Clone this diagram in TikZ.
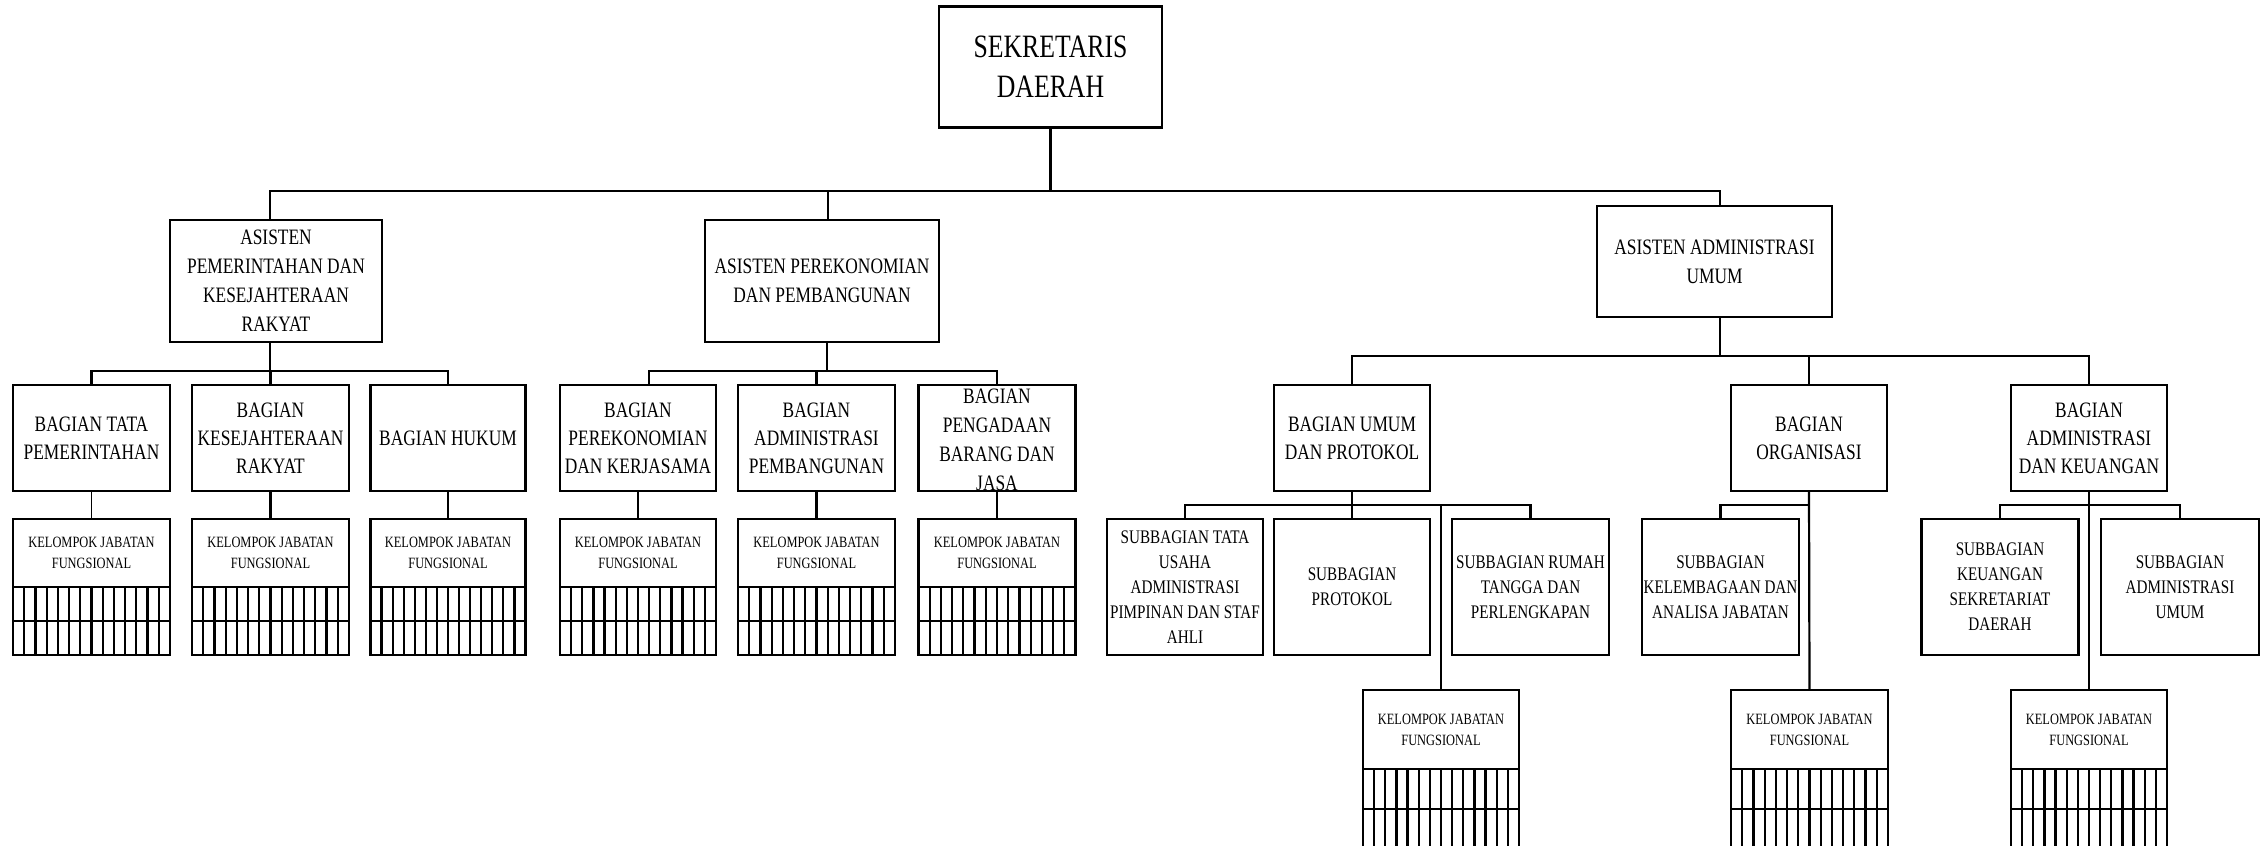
\documentclass[tikz,border=0pt]{standalone}
\usepackage{fontspec}
\setmainfont{Liberation Serif}[FakeStretch=0.79]
\usetikzlibrary{calc}
\tikzset{
 ln/.style={line width=2.2pt},
 thinln/.style={line width=1.3pt},
 box/.style={draw, line width=2.2pt, align=center, inner sep=0pt, outer sep=0pt},
 topbox/.style={box, font=\fontsize{32.6}{40}\selectfont},
 asbox/.style={box, font=\fontsize{22}{29}\selectfont},
 bgbox/.style={box, font=\fontsize{22}{28}\selectfont, minimum height=106},
 bgtext/.style={align=center, inner sep=0pt, font=\fontsize{22}{29}\selectfont},
 sbbox/.style={box, font=\fontsize{19.2}{25}\selectfont, minimum height=136},
 kjbox/.style={box, font=\fontsize{15.7}{21}\selectfont},
}
\newcommand{\kjgrid}[3]{%
  \foreach \gi in {1,...,13}{\draw[ln] ($(#1.south west)!\gi/14!(#1.south east)$) -- ++(0,#2*#3);}
  \foreach \gr in {1,...,#3}{\draw[ln,line cap=rect] ($(#1.south west)+(0,\gr*#2)$) -- ($(#1.south east)+(0,\gr*#2)$);}
  \draw[ln,line cap=rect] (#1.south west) -- ++(0,#2*#3) (#1.south east) -- ++(0,#2*#3);
}
\begin{document}
\begin{tikzpicture}[x=1pt,y=-1pt]
\useasboundingbox (0,0) rectangle (2268,846);
\clip (0,0) rectangle (2268,846);
\fill[white] (0,0) rectangle (2268,846);
% level 0
\node[topbox, minimum width=223, minimum height=121] (sek) at (1050.5,67) {SEKRETARIS\\DAERAH};
% level 1
\node[asbox, minimum width=212, minimum height=122] (asPem) at (276,281) {ASISTEN\\PEMERINTAHAN DAN\\KESEJAHTERAAN\\RAKYAT};
\node[asbox, minimum width=234, minimum height=122] (asEko) at (822,281) {ASISTEN PEREKONOMIAN\\DAN PEMBANGUNAN};
\node[asbox, minimum width=235, minimum height=111] (asAdm) at (1714.5,261.5) {ASISTEN ADMINISTRASI\\UMUM};
% level 2
\node[bgbox, minimum width=157] (b1) at (91.5,438) {BAGIAN TATA\\PEMERINTAHAN};
\node[bgbox, minimum width=157] (b2) at (270.5,438) {BAGIAN\\KESEJAHTERAAN\\RAKYAT};
\node[bgbox, minimum width=155] (b3) at (448,438) {BAGIAN HUKUM};
\node[bgbox, minimum width=156] (m1) at (638,438) {BAGIAN\\PEREKONOMIAN\\DAN KERJASAMA};
\node[bgbox, minimum width=157] (m2) at (816.5,438) {BAGIAN\\ADMINISTRASI\\PEMBANGUNAN};
\node[bgbox, minimum width=157] (m3) at (997,438) {};
\node[bgtext] (m3t) at ($(m3.center)+(0,2)$) {BAGIAN\\PENGADAAN\\BARANG DAN\\JASA};
\node[bgbox, minimum width=156] (r1) at (1352,438) {BAGIAN UMUM\\DAN PROTOKOL};
\node[bgbox, minimum width=156] (r2) at (1809,438) {BAGIAN\\ORGANISASI};
\node[bgbox, minimum width=156] (r3) at (2089,438) {BAGIAN\\ADMINISTRASI\\DAN KEUANGAN};
% kelompok jabatan fungsional (upper)
\node[kjbox, minimum width=157, minimum height=68] (k1) at (91.5,553) {KELOMPOK JABATAN\\FUNGSIONAL};
\node[kjbox, minimum width=157, minimum height=68] (k2) at (270.5,553) {KELOMPOK JABATAN\\FUNGSIONAL};
\node[kjbox, minimum width=155, minimum height=68] (k3) at (448,553) {KELOMPOK JABATAN\\FUNGSIONAL};
\node[kjbox, minimum width=156, minimum height=68] (k4) at (638,553) {KELOMPOK JABATAN\\FUNGSIONAL};
\node[kjbox, minimum width=157, minimum height=68] (k5) at (816.5,553) {KELOMPOK JABATAN\\FUNGSIONAL};
\node[kjbox, minimum width=157, minimum height=68] (k6) at (997,553) {KELOMPOK JABATAN\\FUNGSIONAL};
\kjgrid{k1}{34}{2}
\kjgrid{k2}{34}{2}
\kjgrid{k3}{34}{2}
\kjgrid{k4}{34}{2}
\kjgrid{k5}{34}{2}
\kjgrid{k6}{34}{2}
% subbagian
\node[sbbox, minimum width=156] (s1) at (1185,587) {SUBBAGIAN TATA\\USAHA\\ADMINISTRASI\\PIMPINAN DAN STAF\\AHLI};
\node[sbbox, minimum width=156] (s2) at (1352,587) {SUBBAGIAN\\PROTOKOL};
\node[sbbox, minimum width=157] (s3) at (1530.5,587) {SUBBAGIAN RUMAH\\TANGGA DAN\\PERLENGKAPAN};
\node[sbbox, minimum width=157] (s4) at (1720.5,587) {SUBBAGIAN\\KELEMBAGAAN DAN\\ANALISA JABATAN};
\node[sbbox, minimum width=157] (s5) at (2000,587) {SUBBAGIAN\\KEUANGAN\\SEKRETARIAT\\DAERAH};
\node[sbbox, minimum width=158] (s6) at (2180,587) {SUBBAGIAN\\ADMINISTRASI\\UMUM};
% kelompok jabatan fungsional (lower)
\node[kjbox, minimum width=156, minimum height=79] (kb1) at (1441,729.5) {KELOMPOK JABATAN\\FUNGSIONAL};
\node[kjbox, minimum width=157, minimum height=79] (kb2) at (1809.5,729.5) {KELOMPOK JABATAN\\FUNGSIONAL};
\node[kjbox, minimum width=156, minimum height=79] (kb3) at (2089,729.5) {KELOMPOK JABATAN\\FUNGSIONAL};
\kjgrid{kb1}{40}{2}
\kjgrid{kb2}{40}{2}
\kjgrid{kb3}{40}{2}
% bus levels and offset points
\coordinate (bus1) at (0,191);
\coordinate (bus2) at (0,371);
\coordinate (bus3) at (0,356);
\coordinate (bus4) at (0,505);
\coordinate (aPt) at ($(asPem.north)+(-6,0)$);
\coordinate (aPb) at ($(asPem.south)+(-6,0)$);
\coordinate (aEt) at ($(asEko.north)+(6,0)$);
\coordinate (aEb) at ($(asEko.south)+(5,0)$);
\coordinate (aAt) at ($(asAdm.north)+(5.5,0)$);
\coordinate (aAb) at ($(asAdm.south)+(5.5,0)$);
\coordinate (m1t) at ($(m1.north)+(11,0)$);
% connectors
\draw[ln] (sek.south) -- (sek.south |- bus1);
\draw[ln] (aPt) -- (aPt |- bus1) -- (aAt |- bus1) -- (aAt);
\draw[ln] (aEt) -- (aEt |- bus1);
\draw[ln] (aPb) -- (aPb |- bus2);
\draw[ln] (b1.north) -- (b1.north |- bus2) -- (b3.north |- bus2) -- (b3.north);
\draw[ln] (b2.north) -- (b2.north |- bus2);
\draw[ln] (aEb) -- (aEb |- bus2);
\draw[ln] (m1t) -- (m1t |- bus2) -- (m3.north |- bus2) -- (m3.north);
\draw[ln] (m2.north) -- (m2.north |- bus2);
\draw[thinln] (b1.south) -- (k1.north);
\draw[ln] (b2.south) -- (k2.north);
\draw[ln] (b3.south) -- (k3.north);
\draw[ln] (m1.south) -- (k4.north);
\draw[ln] (m2.south) -- (k5.north);
\draw[ln] (m3.south) -- (k6.north);
\draw[ln] (aAb) -- (aAb |- bus3);
\draw[ln] (r1.north) -- (r1.north |- bus3) -- (r3.north |- bus3) -- (r3.north);
\draw[ln] (r2.north) -- (r2.north |- bus3);
\draw[ln] (r1.south) -- (r1.south |- bus4);
\draw[ln] (s1.north) -- (s1.north |- bus4) -- (s3.north |- bus4) -- (s3.north);
\draw[ln] (s2.north) -- (s2.north |- bus4);
\draw[ln] (kb1.north |- bus4) -- (kb1.north);
\draw[ln] (r2.south) -- (kb2.north);
\draw[ln] (s4.north) -- (s4.north |- bus4) -- (r2.south |- bus4);
\draw[ln] (r3.south) -- (kb3.north);
\draw[ln] (s5.north) -- (s5.north |- bus4) -- (s6.north |- bus4) -- (s6.north);
\end{tikzpicture}
\end{document}
